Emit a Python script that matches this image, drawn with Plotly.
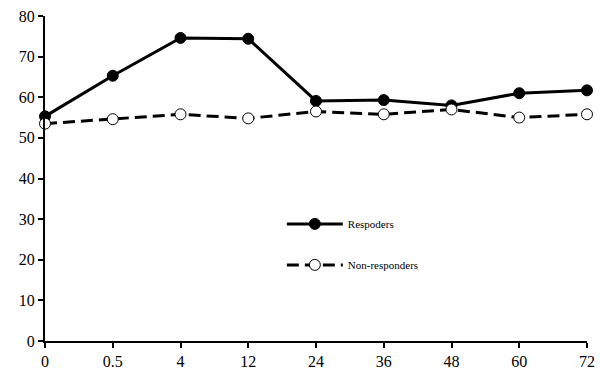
import plotly.graph_objects as go

categories = ["0", "0.5", "4", "12", "24", "36", "48", "60", "72"]
responders = [55.3, 65.3, 74.6, 74.4, 59.1, 59.3, 58.0, 61.0, 61.7]
non_responders = [53.5, 54.6, 55.8, 54.8, 56.5, 55.8, 57.0, 55.0, 55.8]
y_ticks = [0, 10, 20, 30, 40, 50, 60, 70, 80]

font_family = "Liberation Serif, Times New Roman, serif"

fig = go.Figure()
fig.add_trace(go.Scatter(
    x=categories, y=responders, name="Respoders", mode="lines+markers",
    line=dict(color="black", width=3),
    marker=dict(color="black", size=11, line=dict(color="black", width=1)),
    cliponaxis=False, legendgroup="a",
))
fig.add_trace(go.Scatter(
    x=categories, y=non_responders, name="Non-responders", mode="lines+markers",
    line=dict(color="black", width=3, dash="12px,6px"),
    marker=dict(color="white", size=11, line=dict(color="black", width=1)),
    cliponaxis=False, legendgroup="b",
))

fig.update_layout(
    width=600, height=379,
    margin=dict(l=45, r=13, t=16, b=38, autoexpand=False),
    paper_bgcolor="white", plot_bgcolor="white",
    font=dict(family=font_family, color="black", size=16),
    legend=dict(
        x=0.437, y=0.405, xanchor="left", yanchor="top",
        font=dict(size=11, family=font_family),
        tracegroupgap=22, bgcolor="rgba(0,0,0,0)",
        itemwidth=56,
    ),
    xaxis=dict(
        type="category", range=[0, 8], showgrid=False, zeroline=False,
        showline=True, linecolor="black", linewidth=2, automargin=False,
        ticks="outside", ticklen=5, tickcolor="black", tickwidth=1.5,
        tickfont=dict(size=16, family=font_family),
    ),
    yaxis=dict(
        range=[0, 80], tickvals=y_ticks, showgrid=False, zeroline=False,
        showline=True, linecolor="black", linewidth=2, automargin=False,
        ticks="outside", ticklen=5, tickcolor="black", tickwidth=1.5,
        tickfont=dict(size=16, family=font_family),
    ),
)

fig.write_html("out.html", config={"displayModeBar": False},
               post_script="document.body.style.margin='0';")
